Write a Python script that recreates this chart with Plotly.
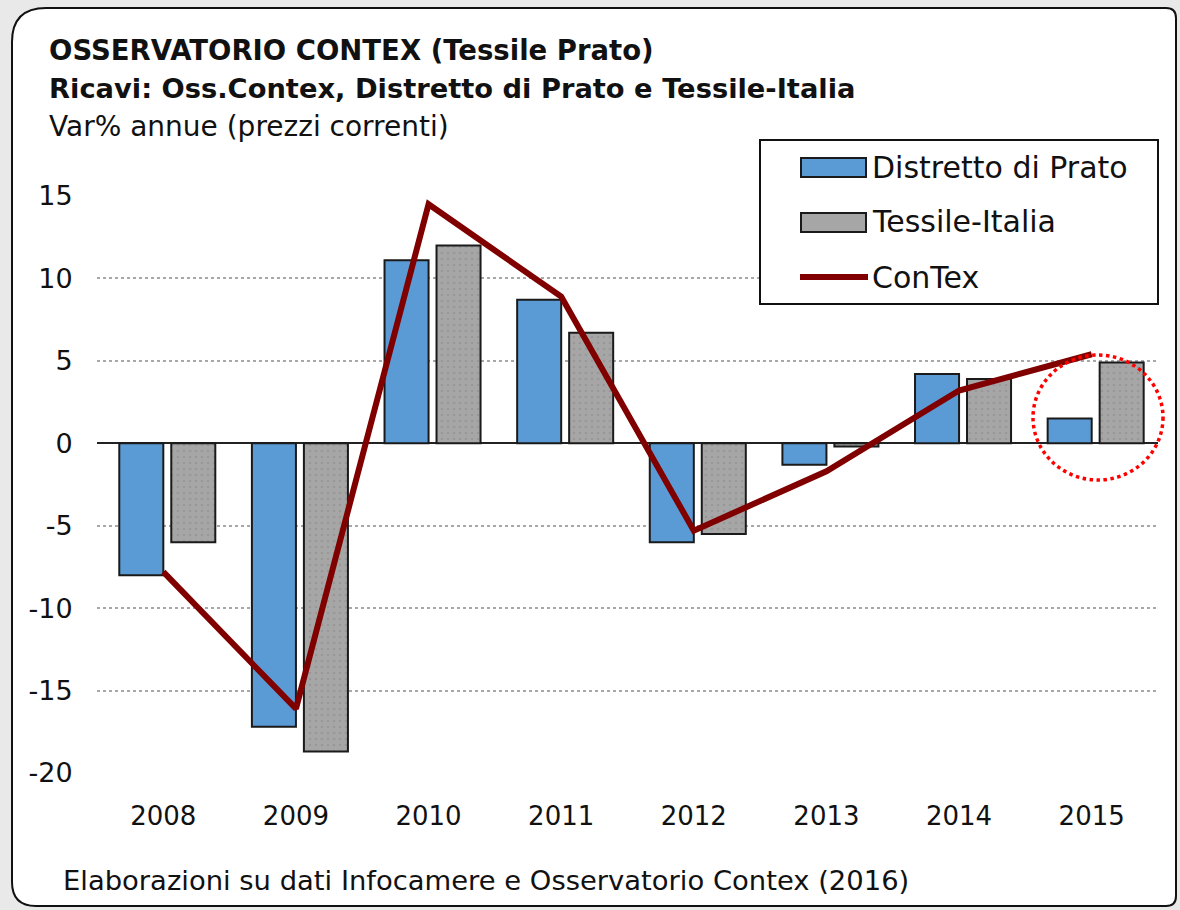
import plotly.graph_objects as go

years = ["2008", "2009", "2010", "2011", "2012", "2013", "2014", "2015"]
prato = [-8.0, -17.2, 11.1, 8.7, -6.0, -1.3, 4.2, 1.5]
italia = [-6.0, -18.7, 12.0, 6.7, -5.5, -0.2, 3.9, 4.9]
contex = [-7.8, -16.1, 14.5, 8.9, -5.3, -1.7, 3.2, 5.4]
y_ticks = [15, 10, 5, 0, -5, -10, -15, -20]

W, H = 1180, 910
L, R, T, B = 97, 22, 196, 137
PW, PH = W - L - R, H - T - B


def px(x):
    return (x - L) / PW


def py(y):
    return (H - B - y) / PH


FONT = "DejaVu Sans"

fig = go.Figure()
fig.add_trace(go.Bar(
    x=years, y=prato, name="Distretto di Prato",
    offset=-0.332, width=0.332,
    marker=dict(color="#5b9bd5", line=dict(color="#1a1a1a", width=2)),
    showlegend=False,
))
fig.add_trace(go.Bar(
    x=years, y=italia, name="Tessile-Italia",
    offset=0.06, width=0.332,
    marker=dict(color="#a6a6a6", line=dict(color="#1a1a1a", width=2),
                pattern=dict(shape=".", fgcolor="#8a8a8a", size=6, solidity=0.15)),
    showlegend=False,
))
fig.add_trace(go.Scatter(
    x=years, y=contex, name="ConTex", mode="lines",
    line=dict(color="#800000", width=6),
    cliponaxis=False, showlegend=False,
))

shapes = []
# frame
x0, y0, x1, y1, r = 12, 8, 1176, 906, 34
path = (f"M {px(x0 + r)},{py(y0)} L {px(x1 - 10)},{py(y0)} Q {px(x1)},{py(y0)} {px(x1)},{py(y0 + 10)} "
        f"L {px(x1)},{py(y1 - 10)} Q {px(x1)},{py(y1)} {px(x1 - 10)},{py(y1)} "
        f"L {px(x0 + 24)},{py(y1)} Q {px(x0)},{py(y1)} {px(x0)},{py(y1 - 24)} "
        f"L {px(x0)},{py(y0 + r)} Q {px(x0)},{py(y0)} {px(x0 + r)},{py(y0)} Z")
shapes.append(dict(type="path", xref="paper", yref="paper", path=path,
                   fillcolor="white", line=dict(color="#111111", width=2), layer="below"))
# legend box
shapes.append(dict(type="rect", xref="paper", yref="paper",
                   x0=px(760), x1=px(1158), y0=py(304), y1=py(140),
                   fillcolor="white", line=dict(color="#111111", width=2), layer="above"))
shapes.append(dict(type="rect", xref="paper", yref="paper",
                   x0=px(801), x1=px(866), y0=py(177), y1=py(158),
                   fillcolor="#5b9bd5", line=dict(color="#1a1a1a", width=2), layer="above"))
shapes.append(dict(type="rect", xref="paper", yref="paper",
                   x0=px(801), x1=px(866), y0=py(232), y1=py(213),
                   fillcolor="#a6a6a6", line=dict(color="#1a1a1a", width=2), layer="above"))
shapes.append(dict(type="line", xref="paper", yref="paper",
                   x0=px(800), x1=px(868), y0=py(277), y1=py(277),
                   line=dict(color="#800000", width=6), layer="above"))
# red dotted circle
shapes.append(dict(type="circle", xref="paper", yref="paper",
                   x0=px(1033), x1=px(1163), y0=py(480), y1=py(355),
                   line=dict(color="#ff0000", width=3.5, dash="dot"), layer="above"))

annotations = [
    dict(text="<b>OSSERVATORIO CONTEX (Tessile Prato)</b>", x=px(47), y=py(50),
         font=dict(size=27.5)),
    dict(text="<b>Ricavi: Oss.Contex, Distretto di Prato e Tessile-Italia</b>", x=px(47), y=py(88),
         font=dict(size=27.3)),
    dict(text="Var% annue (prezzi correnti)", x=px(47), y=py(127), font=dict(size=28)),
    dict(text="Elaborazioni su dati Infocamere e Osservatorio Contex (2016)", x=px(61), y=py(880),
         font=dict(size=27.4)),
    dict(text="Distretto di Prato", x=px(870), y=py(167), font=dict(size=30)),
    dict(text="Tessile-Italia", x=px(870), y=py(222), font=dict(size=30)),
    dict(text="ConTex", x=px(870), y=py(277), font=dict(size=30)),
]
for a in annotations:
    a.update(xref="paper", yref="paper", xanchor="left", yanchor="middle", showarrow=False)
    a["font"].update(family=FONT, color="#111111")

fig.update_layout(
    width=W, height=H,
    margin=dict(l=L, r=R, t=T, b=B, autoexpand=False),
    paper_bgcolor="#e9e9e9",
    plot_bgcolor="rgba(0,0,0,0)",
    barmode="overlay",
    shapes=shapes,
    annotations=annotations,
    showlegend=False,
    font=dict(family=FONT, color="#111111"),
    xaxis=dict(type="category", range=[-0.5, 7.5], showgrid=False, showline=False, zeroline=False,
               ticks="outside", ticklen=20, tickcolor="rgba(0,0,0,0)",
               tickfont=dict(size=26, family=FONT, color="#111111")),
    yaxis=dict(range=[-20, 15], tickvals=y_ticks, ticktext=[str(v) for v in y_ticks],
               showgrid=True, gridcolor="#a8a8a8", gridwidth=1.5, griddash="dot",
               zeroline=True, zerolinecolor="#222222", zerolinewidth=2,
               showline=False, ticks="outside", ticklen=18, tickcolor="rgba(0,0,0,0)",
               tickfont=dict(size=27, family=FONT, color="#111111")),
)

fig.write_html("out.html", config={"displayModeBar": False},
               post_script="document.body.style.margin='0';document.body.style.padding='0';")
